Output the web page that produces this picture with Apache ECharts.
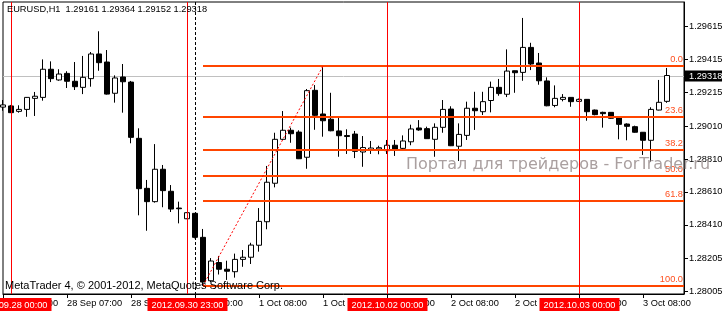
<!DOCTYPE html>
<html><head><meta charset="utf-8">
<script src="https://cdn.jsdelivr.net/npm/echarts@6/dist/echarts.min.js"></script>
<style>html,body{margin:0;padding:0;background:#fff}#c{width:722px;height:311px}</style>
</head><body><div id="c"></div><script>
// ---- data (hourly bars, slot 0 = 2012.09.27 23:00) ----
const symbolName = 'EURUSD,H1';
const open = [1.29126,1.29133,1.29100,1.29112,1.29179,1.29185,1.29356,1.29291,1.29331,1.29283,
  1.29246,1.29299,1.29449,1.29400,1.29210,1.29309,1.29278,1.28936,1.28632,1.28551,
  1.28748,1.28614,1.28512,1.28447,1.28480,1.28334,1.28070,1.28181,1.28140,1.28125,
  1.28200,1.28213,1.28286,1.28429,1.28663,1.28930,1.28985,1.28974,1.28821,1.29228,
  1.29084,1.29052,1.28981,1.28953,1.28962,1.28853,1.28867,1.28871,1.28861,1.28894,
  1.28875,1.28915,1.28999,1.28995,1.28930,1.29003,1.29114,1.28888,1.28954,1.29119,
  1.29098,1.29166,1.29246,1.29204,1.29347,1.29337,1.29489,1.29394,1.29285,1.29136,
  1.29173,1.29185,1.29161,1.29173,1.29108,1.29094,1.29094,1.29060,1.29023,1.29007,
  1.28973,1.28924,1.29108,1.29161];
const close = [1.29139,1.29092,1.29112,1.29185,1.29192,1.29356,1.29299,1.29327,1.29283,1.29250,
  1.29307,1.29449,1.29396,1.29205,1.29303,1.29280,1.28942,1.28630,1.28551,1.28748,
  1.28618,1.28506,1.28508,1.28484,1.28334,1.28062,1.28190,1.28140,1.28128,1.28200,
  1.28213,1.28287,1.28431,1.28669,1.28930,1.28985,1.28964,1.28812,1.29226,1.29076,
  1.29043,1.28982,1.28952,1.28947,1.28857,1.28880,1.28877,1.28879,1.28894,1.28867,
  1.28920,1.28993,1.28987,1.28934,1.29003,1.29112,1.28891,1.28960,1.29119,1.29104,
  1.29159,1.29246,1.29208,1.29345,1.29335,1.29489,1.29388,1.29286,1.29134,1.29179,
  1.29185,1.29159,1.29173,1.29098,1.29080,1.29086,1.29058,1.29021,1.29009,1.28973,
  1.28924,1.29112,1.29155,1.29318];
const low = [1.29104,1.29090,1.29092,1.29067,1.29072,1.29165,1.29278,1.29286,1.29242,1.29230,
  1.29205,1.29250,1.29347,1.29202,1.29153,1.29092,1.28906,1.28468,1.28374,1.28545,
  1.28517,1.28488,1.28419,1.28445,1.28328,1.28040,1.28062,1.28108,1.28075,1.28089,
  1.28155,1.28172,1.28247,1.28383,1.28638,1.28926,1.28909,1.28810,1.28751,1.28988,
  1.28946,1.28979,1.28824,1.28841,1.28816,1.28763,1.28841,1.28839,1.28841,1.28829,
  1.28865,1.28894,1.28982,1.28932,1.28824,1.28970,1.28889,1.28798,1.28926,1.28987,
  1.29078,1.29094,1.29195,1.29187,1.29213,1.29286,1.29351,1.29262,1.29131,1.29125,
  1.29161,1.29128,1.29159,1.29043,1.29076,1.29001,1.29055,1.28930,1.28924,1.28970,
  1.28835,1.28792,1.29106,1.29152];
const high = [1.29169,1.29139,1.29137,1.29187,1.29218,1.29416,1.29404,1.29356,1.29344,1.29400,
  1.29437,1.29461,1.29587,1.29473,1.29319,1.29388,1.29285,1.28997,1.28683,1.28901,
  1.28774,1.28652,1.28551,1.28486,1.28482,1.28385,1.28208,1.28221,1.28192,1.28235,
  1.28257,1.28301,1.28512,1.28768,1.28970,1.29102,1.29001,1.28985,1.29236,1.29260,
  1.29376,1.29213,1.29061,1.28991,1.28981,1.28950,1.28920,1.28891,1.28926,1.28926,
  1.28954,1.29019,1.29047,1.29007,1.29027,1.29169,1.29131,1.29027,1.29159,1.29219,
  1.29219,1.29281,1.29297,1.29477,1.29348,1.29668,1.29517,1.29455,1.29307,1.29258,
  1.29205,1.29187,1.29178,1.29175,1.29111,1.29098,1.29096,1.29061,1.29027,1.29013,
  1.28974,1.29125,1.29291,1.29364];

const xTickSlots  = [0, 8, 16, 24, 32, 40, 48, 56, 64, 72, 80];
const xTickLabels = ['27 Sep 23:00','28 Sep 07:00','28 Sep 15:00','1 Oct 00:00','1 Oct 08:00',
  '1 Oct 16:00','2 Oct 00:00','2 Oct 08:00','2 Oct 16:00','3 Oct 00:00','3 Oct 08:00'];
const yTickValues = [1.29615, 1.29415, 1.29215, 1.29010, 1.28810, 1.28610, 1.28410, 1.28205, 1.28005];

const vlineSlots  = [1, 23, 48, 72];
const vlineLabels = ['2012.09.28 00:00','2012.09.30 23:00','2012.10.02 00:00','2012.10.03 00:00'];
const separatorSlots = [24];

const fibLevels = ['0.0','23.6','38.2','50.0','61.8','100.0'];
const fibPrices = [1.29376, 1.29066, 1.28867, 1.28708, 1.28555, 1.28040];
const fibFromSlot = 25, fibToSlot = 40;

const yMin = 1.279895, yMax = 1.29765, xMax = 85.125;

// ---- chart ----
const F = '"Liberation Sans",Arial,sans-serif';
const FS = 9.25;
const n = open.length;
const candles = open.map((o, i) => [i, o, close[i], low[i], high[i]]);
const last = n - 1;
const fmt = v => v.toFixed(5);

const chart = echarts.init(document.getElementById('c'), null, {renderer: 'canvas'});
chart.setOption({
  animation: false,
  backgroundColor: '#fff',
  title: [
    {text: symbolName + '  ' + [open[last], high[last], low[last], close[last]].map(fmt).join(' '),
     left: 7, top: 5, padding: 0,
     textStyle: {fontSize: FS, fontWeight: 'normal', color: '#000', fontFamily: F}},
    {text: 'MetaTrader 4, \u00a9 2001-2012, MetaQuotes Software Corp.',
     left: 5, top: 280, padding: 0,
     textStyle: {fontSize: 11, fontWeight: 'normal', color: '#000', fontFamily: F}},
    {text: 'Портал для трейдеров - ForTrader.ru',
     left: 406, top: 157, padding: 0,
     textStyle: {fontSize: 16, fontWeight: 'normal', color: '#aaa0a0', fontFamily: '"DejaVu Sans",sans-serif'}}
  ],
  grid: {left: 3, top: 2, right: 38, bottom: 17, show: true, borderColor: '#000', borderWidth: 1,
         backgroundColor: '#fff', containLabel: false, outerBoundsMode: 'none'},
  xAxis: {
    type: 'value', min: 0, max: xMax, position: 'bottom',
    axisLine: {show: true, onZero: false, lineStyle: {color: '#000', width: 1}},
    splitLine: {show: false},
    axisTick: {show: true, length: 4, inside: false, customValues: xTickSlots, lineStyle: {color: '#000'}},
    axisLabel: {show: true, customValues: xTickSlots, align: 'left', margin: 5,
      color: '#000', fontSize: FS, fontFamily: F,
      formatter: v => xTickLabels[xTickSlots.indexOf(Math.round(v))] || ''}
  },
  yAxis: {
    type: 'value', min: yMin, max: yMax, position: 'right',
    axisLine: {show: true, onZero: false, lineStyle: {color: '#000', width: 1}},
    splitLine: {show: false},
    axisTick: {show: true, length: 4, inside: false, customValues: yTickValues, lineStyle: {color: '#000'}},
    axisLabel: {show: true, customValues: yTickValues, margin: 5, align: 'left',
      color: '#000', fontSize: FS, fontFamily: F, formatter: v => fmt(v)}
  },
  series: [
    { // period separator (background)
      type: 'custom', z: 1, data: separatorSlots.map(s => [s, yMin]),
      encode: {x: 0, y: 1},
      renderItem(params, api) {
        const cs = params.coordSys;
        const x = Math.round(api.coord([api.value(0), yMin])[0]) + 0.5;
        return {type: 'line', shape: {x1: x, y1: cs.y, x2: x, y2: cs.y + cs.height},
                style: {stroke: '#000', lineWidth: 1, lineDash: [3, 2]}};
      }
    },
    { // bid line + price box
      type: 'custom', z: 1, data: [[last, close[last]]],
      encode: {x: 0, y: 1},
      renderItem(params, api) {
        const cs = params.coordSys;
        const y = Math.round(api.coord([api.value(0), api.value(1)])[1]) + 0.5;
        const rx = cs.x + cs.width + 1;
        return {type: 'group', children: [
          {type: 'line', shape: {x1: cs.x, y1: y, x2: cs.x + cs.width, y2: y},
           style: {stroke: '#c0c0c0', lineWidth: 1}},
          {type: 'rect', shape: {x: rx, y: y - 6, width: 40, height: 11}, style: {fill: '#000'}},
          {type: 'text', x: rx + 4, y: y, style: {text: fmt(api.value(1)), fill: '#fff',
            font: FS + 'px ' + F, align: 'left', verticalAlign: 'middle'}}
        ]};
      }
    },
    {
      type: 'candlestick', z: 3, data: candles, barWidth: 5, clip: true,
      itemStyle: {color: '#fff', color0: '#000', borderColor: '#000', borderColor0: '#000', borderWidth: 1}
    },
    { // fibonacci levels
      type: 'custom', z: 4, data: fibPrices.map(p => [fibFromSlot, p]),
      encode: {x: 0, y: 1},
      renderItem(params, api) {
        const cs = params.coordSys;
        const pt = api.coord([api.value(0), api.value(1)]);
        const y = Math.round(pt[1]);
        return {type: 'group', children: [
          {type: 'line', shape: {x1: Math.round(pt[0]), y1: y, x2: cs.x + cs.width, y2: y},
           style: {stroke: '#ff4500', lineWidth: 2}},
          {type: 'text', x: cs.x + cs.width - 1, y: y - 2,
           style: {text: fibLevels[params.dataIndex], fill: '#ff5020', font: FS + 'px ' + F,
                   align: 'right', verticalAlign: 'bottom'}}
        ]};
      }
    },
    { // fibonacci trend line (low -> high)
      type: 'line', z: 5, symbol: 'none', silent: true,
      data: [[fibFromSlot, low[fibFromSlot]], [fibToSlot, high[fibToSlot]]],
      lineStyle: {color: '#ff0000', width: 1, type: [2, 2]}
    },
    { // vertical lines with time labels
      type: 'custom', z: 6, data: vlineSlots.map(s => [s, yMin]),
      encode: {x: 0, y: 1},
      renderItem(params, api) {
        const cs = params.coordSys;
        const x = Math.round(api.coord([api.value(0), yMin])[0]) + 0.5;
        return {type: 'group', children: [
          {type: 'line', shape: {x1: x, y1: cs.y, x2: x, y2: cs.y + cs.height},
           style: {stroke: '#ff0000', lineWidth: 1}},
          {type: 'text', x: x, y: cs.y + cs.height + 4,
           style: {text: vlineLabels[params.dataIndex], fill: '#fff', backgroundColor: '#ff0000',
                   padding: [3, 4, 4, 4], font: FS + 'px ' + F, align: 'center', verticalAlign: 'top'}}
        ]};
      }
    }
  ]
});
</script></body></html>
